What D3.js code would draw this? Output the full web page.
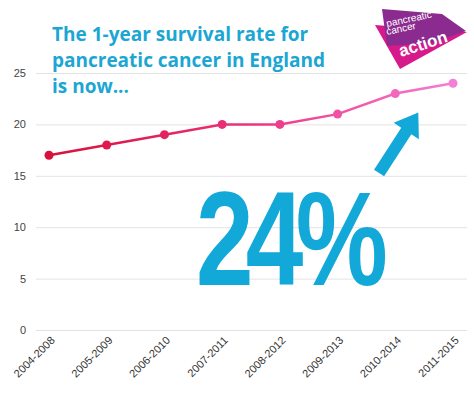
<!DOCTYPE html>
<html>
<head>
<meta charset="utf-8">
<script src="https://cdn.jsdelivr.net/npm/d3@7"></script>
<style>
  body { margin: 0; background: #fff; }
  svg { display: block; }
</style>
</head>
<body>
<div id="chart"></div>
<script>
const periods = ["2004-2008", "2005-2009", "2006-2010", "2007-2011",
                 "2008-2012", "2009-2013", "2010-2014", "2011-2015"];
const survival = [17, 18, 19, 20, 20, 21, 23, 24];
const yTicks = [0, 5, 10, 15, 20, 25];
const titleLines = ["The 1-year survival rate for", "pancreatic cancer in England", "is now..."];
const headline = "24%";
const lineColors = ["#d8103c", "#e2205a", "#ec3480", "#f256a8", "#f47fd6"];

const svgWidth = 474, svgHeight = 397;

const svg = d3.select("#chart").append("svg")
  .attr("width", svgWidth)
  .attr("height", svgHeight);

// scales
const x = d3.scalePoint()
  .domain(periods)
  .range([49, 453]);

const y = d3.scaleLinear()
  .domain([0, 25])
  .range([330, 73]);

// grid lines + y labels
const yAxis = svg.append("g")
  .attr("class", "y axis")
  .attr("transform", "translate(36,0)")
  .call(d3.axisLeft(y).tickValues(yTicks).tickSize(-431).tickPadding(10));
yAxis.select(".domain").remove();
yAxis.selectAll("line").attr("stroke", "#e3e3e3");
yAxis.selectAll("text")
  .attr("fill", "#444")
  .style("font", "11px 'Liberation Sans', Arial, sans-serif");

// x labels, rotated
const xAxis = svg.append("g")
  .attr("class", "x axis")
  .attr("transform", "translate(0,330)")
  .call(d3.axisBottom(x).tickSize(0).tickPadding(0));
xAxis.select(".domain").remove();
xAxis.selectAll("text")
  .attr("fill", "#333")
  .style("font", "11px 'Liberation Sans', Arial, sans-serif")
  .attr("text-anchor", "end")
  .attr("dy", null)
  .attr("y", 0)
  .attr("transform", "translate(6,11) rotate(-45)");

// colour along the line
const colorAt = d3.scaleLinear()
  .domain(d3.range(lineColors.length).map(i => i / (lineColors.length - 1)))
  .range(lineColors);

const grad = svg.append("defs").append("linearGradient")
  .attr("id", "lineGrad")
  .attr("gradientUnits", "userSpaceOnUse")
  .attr("x1", x(periods[0])).attr("x2", x(periods[periods.length - 1]))
  .attr("y1", 0).attr("y2", 0);
grad.selectAll("stop")
  .data(lineColors)
  .join("stop")
  .attr("offset", (d, i) => i / (lineColors.length - 1))
  .attr("stop-color", d => d);

const valueline = d3.line()
  .x((d, i) => x(periods[i]))
  .y(d => y(d));

svg.append("path")
  .datum(survival)
  .attr("fill", "none")
  .attr("stroke", "url(#lineGrad)")
  .attr("stroke-width", 2.5)
  .attr("d", valueline);

svg.selectAll("circle.dot")
  .data(survival)
  .join("circle")
  .attr("class", "dot")
  .attr("cx", (d, i) => x(periods[i]))
  .attr("cy", d => y(d))
  .attr("r", 4.5)
  .attr("fill", (d, i) => colorAt(i / (periods.length - 1)));

// title
svg.append("g")
  .selectAll("text")
  .data(titleLines)
  .join("text")
  .attr("x", 52)
  .attr("y", (d, i) => 41 + i * 26)
  .attr("fill", "#1ba6d3")
  .style("font", "bold 19px 'Open Sans', sans-serif")
  .text(d => d);

// big number
svg.append("text")
  .attr("x", 196)
  .attr("y", 285)
  .attr("textLength", 184)
  .attr("lengthAdjust", "spacingAndGlyphs")
  .attr("fill", "#12a8d7")
  .style("font", "bold 134px 'Liberation Sans Narrow', 'Liberation Sans', sans-serif")
  .style("letter-spacing", "-10px")
  .text(headline);

// arrow pointing at the latest value
const last = periods.length - 1;
const ax = x(periods[last - 1]), ay = y(survival[last - 1]);
svg.append("path")
  .attr("fill", "#12a8d7")
  .attr("transform", `translate(${ax + 23},${ay + 19}) rotate(-57)`)
  .attr("d", "M-72,-6 L-22,-6 L-22,-15 L0,0 L-22,15 L-22,6 L-72,6 Z");

// logo
const logo = svg.append("g");
logo.append("path")
  .attr("fill", "#d61a8c")
  .attr("d", "M375,25 L467,32 L400,69 Z");
logo.append("path")
  .attr("fill", "#8b2b8f")
  .attr("d", "M382,9 L442,14 L466,31 L432,43 L387,46 Z");
logo.append("text")
  .attr("transform", "translate(387,27) rotate(-12)")
  .attr("fill", "#fff")
  .style("font", "10px 'Liberation Sans', sans-serif")
  .text("pancreatic");
logo.append("text")
  .attr("transform", "translate(387,35) rotate(-12)")
  .attr("fill", "#fff")
  .style("font", "10px 'Liberation Sans', sans-serif")
  .text("cancer");
logo.append("text")
  .attr("transform", "translate(401,57) rotate(-18)")
  .attr("fill", "#fff")
  .style("font", "bold 17px 'Liberation Sans', sans-serif")
  .text("action");
</script>
</body>
</html>
